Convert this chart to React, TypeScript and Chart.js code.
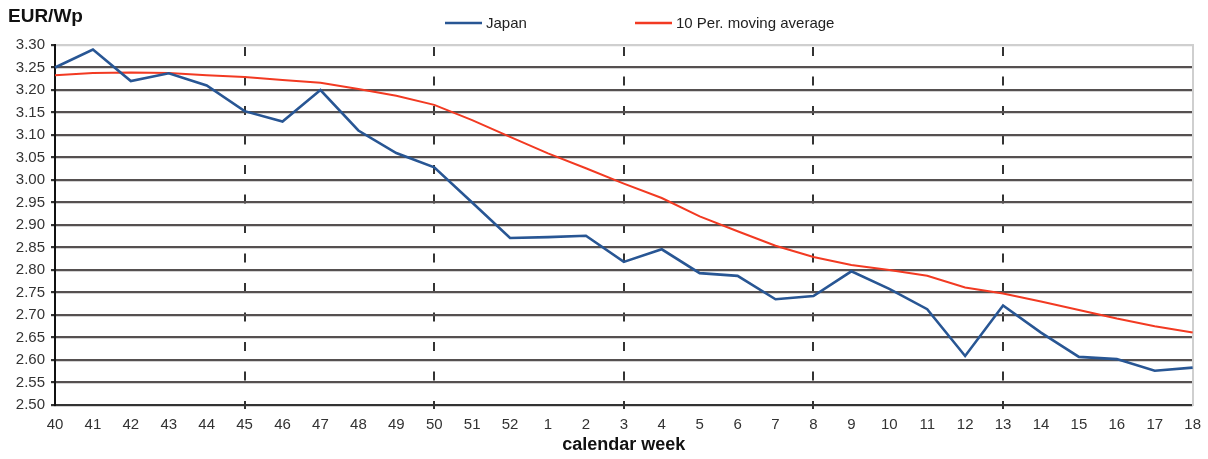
import React, { useEffect, useRef } from "react";
import { Chart, registerables } from "chart.js";

Chart.register(...registerables);

const weeks: string[] = [
  "40", "41", "42", "43", "44", "45", "46", "47", "48", "49", "50", "51", "52",
  "1", "2", "3", "4", "5", "6", "7", "8", "9", "10", "11", "12", "13", "14", "15", "16", "17", "18",
];

const japan: number[] = [
  3.25, 3.29, 3.22, 3.237, 3.21, 3.153, 3.13, 3.2, 3.11, 3.06, 3.028, 2.95, 2.871,
  2.873, 2.876, 2.818, 2.846, 2.793, 2.787, 2.735, 2.742, 2.797, 2.758, 2.713, 2.609,
  2.721, 2.661, 2.607, 2.602, 2.576, 2.583,
];

const movingAverage: number[] = [
  3.233, 3.238, 3.239, 3.238, 3.233, 3.229, 3.222, 3.216, 3.202, 3.187, 3.167, 3.133, 3.096,
  3.059, 3.026, 2.992, 2.96, 2.919, 2.886, 2.854, 2.829, 2.811, 2.8, 2.787, 2.761,
  2.748, 2.73, 2.711, 2.692, 2.675, 2.661,
];

const seriesNames: string[] = ["Japan", "10 Per. moving average"];
const seriesColors: string[] = ["#285694", "#f23a22"];
const yTitle = "EUR/Wp";
const xTitle = "calendar week";

const FONT = "'Liberation Sans', Arial, sans-serif";

const legendPlugin = {
  id: "customLegend",
  afterDraw(chart: any) {
    const ctx = chart.ctx;
    const starts = [445, 635];
    const y = 23;
    ctx.save();
    ctx.font = `15px ${FONT}`;
    ctx.textBaseline = "middle";
    ctx.textAlign = "left";
    chart.data.datasets.forEach((ds: any, i: number) => {
      const x = starts[i];
      ctx.strokeStyle = ds.borderColor;
      ctx.lineWidth = 2.5;
      ctx.beginPath();
      ctx.moveTo(x, y);
      ctx.lineTo(x + 37, y);
      ctx.stroke();
      ctx.fillStyle = "#222";
      ctx.fillText(ds.label, x + 41, y + 1);
    });
    ctx.restore();
  },
};

export default function App() {
  const ref = useRef<HTMLCanvasElement | null>(null);

  useEffect(() => {
    if (!ref.current) return;
    const gridColor = "#555050";
    const chart = new Chart(ref.current, {
      type: "line",
      data: {
        labels: weeks,
        datasets: [
          {
            label: seriesNames[0],
            data: japan,
            borderColor: seriesColors[0],
            backgroundColor: seriesColors[0],
            borderWidth: 2.6,
            pointRadius: 0,
            tension: 0,
          },
          {
            label: seriesNames[1],
            data: movingAverage,
            borderColor: seriesColors[1],
            backgroundColor: seriesColors[1],
            borderWidth: 2,
            pointRadius: 0,
            tension: 0,
          },
        ],
      },
      options: {
        responsive: false,
        animation: false,
        devicePixelRatio: 1,
        layout: { padding: { left: 8, right: 15, top: 0, bottom: 0 } },
        plugins: {
          legend: { display: false },
          tooltip: { enabled: false },
          title: {
            display: true,
            text: yTitle,
            align: "start",
            color: "#111",
            font: { family: FONT, size: 19, weight: "bold" },
            padding: { top: 5, bottom: 17.2 },
          },
        },
        scales: {
          x: {
            type: "category",
            offset: false,
            afterFit: (s: any) => {
              s.height = 54;
            },
            grid: {
              lineWidth: 2,
              color: (c: any) => {
                const i = c.index;
                return i > 0 && i < 30 && i % 5 === 0 ? "#333" : "rgba(0,0,0,0)";
              },
              drawTicks: true,
              tickLength: 4,
            },
            border: { display: true, color: "#333", width: 2, dash: [9, 20.5], dashOffset: -2 },
            ticks: {
              autoSkip: false,
              maxRotation: 0,
              padding: 7,
              color: "#333",
              font: { family: FONT, size: 15 },
            },
            title: {
              display: true,
              text: xTitle,
              color: "#111",
              font: { family: FONT, size: 18, weight: "bold" },
              padding: { top: 0, bottom: 3 },
            },
          },
          y: {
            min: 2.5,
            max: 3.3,
            afterFit: (s: any) => {
              s.width = 47;
            },
            grid: {
              lineWidth: 2.2,
              color: (c: any) =>
                c.tick && Math.abs(c.tick.value - 3.3) < 1e-6 ? "#cfcfcf" : gridColor,
              tickColor: "#333",
              tickLength: 4,
            },
            border: { display: true, color: "#111", width: 2 },
            ticks: {
              stepSize: 0.05,
              padding: 6,
              color: "#333",
              font: { family: FONT, size: 15 },
              callback: (v: any) => Number(v).toFixed(2),
            },
          },
          yRight: {
            position: "right",
            display: true,
            afterFit: (s: any) => {
              s.width = 0;
            },
            grid: { drawOnChartArea: false, drawTicks: false },
            border: { display: true, color: "#cfcfcf", width: 2 },
            ticks: { display: false },
          },
        },
      },
      plugins: [legendPlugin],
    } as any);
    return () => chart.destroy();
  }, []);

  return (
    <div style={{ position: "absolute", left: 0, top: 0, width: 1208, height: 459, background: "#fff" }}>
      <canvas ref={ref} width={1208} height={459} />
    </div>
  );
}
